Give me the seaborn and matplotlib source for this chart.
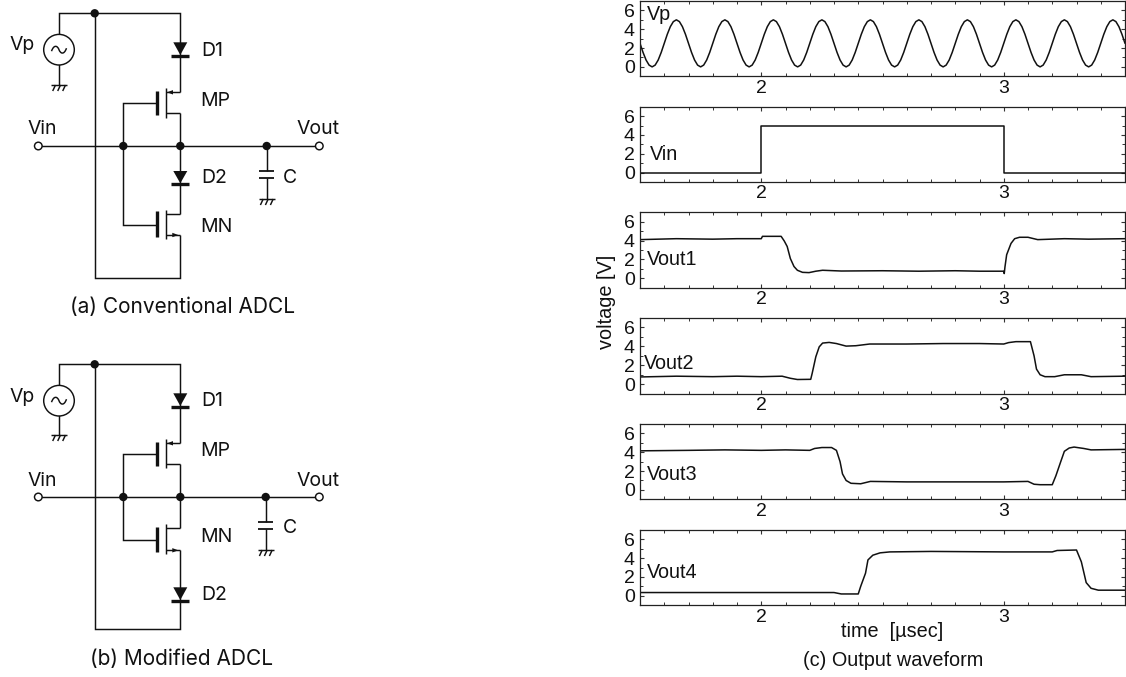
import matplotlib
matplotlib.use("Agg")
import matplotlib.pyplot as plt
import seaborn as sns
from matplotlib.path import Path
from matplotlib.patches import PathPatch, Polygon, Circle
from matplotlib.ticker import MultipleLocator

sns.set_theme(style="ticks")
plt.rcParams['font.family'] = ['Liberation Sans', 'DejaVu Sans']
INK = "#111111"
W, H = 1126, 677

# ---------- waveform data ----------
vp_t = [1.5 + 0.0125 * i for i in range(161)]
vp_v = [2.5,1.54,0.73,0.19,0,0.19,0.73,1.54,2.5,3.46,4.27,4.81,5,4.81,4.27,3.46,
        2.5,1.54,0.73,0.19,0,0.19,0.73,1.54,2.5,3.46,4.27,4.81,5,4.81,4.27,3.46,
        2.5,1.54,0.73,0.19,0,0.19,0.73,1.54,2.5,3.46,4.27,4.81,5,4.81,4.27,3.46,
        2.5,1.54,0.73,0.19,0,0.19,0.73,1.54,2.5,3.46,4.27,4.81,5,4.81,4.27,3.46,
        2.5,1.54,0.73,0.19,0,0.19,0.73,1.54,2.5,3.46,4.27,4.81,5,4.81,4.27,3.46,
        2.5,1.54,0.73,0.19,0,0.19,0.73,1.54,2.5,3.46,4.27,4.81,5,4.81,4.27,3.46,
        2.5,1.54,0.73,0.19,0,0.19,0.73,1.54,2.5,3.46,4.27,4.81,5,4.81,4.27,3.46,
        2.5,1.54,0.73,0.19,0,0.19,0.73,1.54,2.5,3.46,4.27,4.81,5,4.81,4.27,3.46,
        2.5,1.54,0.73,0.19,0,0.19,0.73,1.54,2.5,3.46,4.27,4.81,5,4.81,4.27,3.46,
        2.5,1.54,0.73,0.19,0,0.19,0.73,1.54,2.5,3.46,4.27,4.81,5,4.81,4.27,3.46,
        2.5]
vin_t = [1.5, 2.0, 2.0, 3.0, 3.0, 3.5]
vin_v = [0, 0, 5, 5, 0, 0]
vout1_t = [1.5,1.65,1.8,1.9,2.0,2.005,2.082,2.095,2.107,2.12,2.135,2.149,2.17,2.197,2.225,2.253,2.33,2.5,2.65,2.8,2.9,3.0,3.002,3.005,3.012,3.03,3.045,3.065,3.1,3.14,3.25,3.35,3.5]
vout1_v = [4.1,4.2,4.15,4.2,4.2,4.45,4.45,3.95,3.37,2.1,1.25,0.85,0.63,0.6,0.75,0.85,0.77,0.8,0.75,0.8,0.75,0.75,0.5,1.2,2.5,3.7,4.2,4.35,4.35,4.1,4.2,4.15,4.2]
vout2_t = [1.5,1.65,1.8,1.9,2.0,2.086,2.12,2.149,2.204,2.21,2.225,2.239,2.253,2.28,2.31,2.35,2.39,2.447,2.6,2.75,2.9,3.0,3.02,3.05,3.11,3.125,3.135,3.15,3.17,3.21,3.25,3.32,3.36,3.5]
vout2_v = [0.77,0.85,0.8,0.85,0.8,0.85,0.63,0.5,0.52,1.15,2.9,3.95,4.35,4.42,4.3,4.03,4.07,4.25,4.25,4.3,4.3,4.25,4.4,4.5,4.5,3.0,1.6,1.0,0.8,0.8,1.0,1.0,0.8,0.85]
vout3_t = [1.5,1.7,1.85,2.0,2.1,2.2,2.22,2.25,2.29,2.31,2.325,2.335,2.35,2.37,2.41,2.45,2.6,2.8,3.0,3.1,3.125,3.15,3.2,3.215,3.235,3.25,3.27,3.29,3.33,3.36,3.5]
vout3_v = [4.15,4.2,4.25,4.2,4.25,4.2,4.4,4.5,4.5,4.2,3.0,1.7,1.0,0.7,0.65,0.9,0.85,0.85,0.85,0.9,0.6,0.55,0.55,1.5,3.0,4.1,4.45,4.55,4.4,4.25,4.3]
vout4_t = [1.5,2.0,2.2,2.3,2.33,2.4,2.41,2.43,2.44,2.46,2.49,2.53,2.7,3.0,3.2,3.22,3.3,3.32,3.34,3.36,3.39,3.5]
vout4_v = [0.35,0.35,0.35,0.35,0.2,0.2,1.0,2.4,3.8,4.3,4.55,4.65,4.7,4.65,4.65,4.8,4.85,3.6,1.4,0.8,0.6,0.6]

panel_names = ["Vp", "Vin", "Vout1", "Vout2", "Vout3", "Vout4"]
panel_t = [vp_t, vin_t, vout1_t, vout2_t, vout3_t, vout4_t]
panel_v = [vp_v, vin_v, vout1_v, vout2_v, vout3_v, vout4_v]
panel_box = [(1, 76.3), (106.7, 182), (212.3, 287.7), (318, 393.7), (424, 499.3), (529.7, 605.3)]
panel_label = [(1.528, 5.0), (1.541, 1.35), (1.528, 1.4), (1.518, 1.6), (1.528, 1.05), (1.528, 1.85)]
x_ticks = [2, 3]
y_ticks = [0, 2, 4, 6]

fig = plt.figure(figsize=(W / 100, H / 100), dpi=100)

# ---------- diagrams, in a pixel-scaled layer ----------
bg = fig.add_axes([0, 0, 1, 1])
bg.set_xlim(0, W)
bg.set_ylim(H, 0)
bg.axis("off")

LW = 1.05

def wire(*pts, lw=LW):
    bg.plot([p[0] for p in pts], [p[1] for p in pts], color=INK, lw=lw,
            solid_capstyle="butt", solid_joinstyle="miter")

def dot(x, y):
    bg.add_patch(Circle((x, y), 4.2, fc=INK, ec="none", zorder=4))

def terminal(x, y):
    bg.add_patch(Circle((x, y), 3.8, fc="white", ec=INK, lw=LW, zorder=4))

def ground(x, y):
    wire((x - 8, y), (x + 8, y))
    for dx in (-3.5, 1.5, 6.5):
        wire((x + dx, y), (x + dx - 2.8, y + 6))

def diode(x, top, apex):
    bg.add_patch(Polygon([(x - 7, top), (x + 7, top), (x, apex)], fc=INK, ec="none", zorder=3))
    wire((x - 9, apex + 0.5), (x + 9, apex + 0.5), lw=2.4)

def mosfet(xg, xc, xr, gate_y, top, bot, plate_top, plate_bot, drain_y, source_y, arrow):
    wire((xc, top), (xc, bot))
    wire((xg, plate_top), (xg, plate_bot), lw=2.4)
    wire((xc, drain_y), (xr, drain_y))
    wire((xc, source_y), (xr, source_y))
    if arrow == "in":
        y = drain_y
        tri = [(xc + 1, y), (xc + 7, y - 2.2), (xc + 7, y + 2.2)]
    else:
        y = source_y
        tri = [(xr - 2, y), (xr - 8, y - 2.2), (xr - 8, y + 2.2)]
    bg.add_patch(Polygon(tri, fc=INK, ec="none", zorder=3))

def source(x, y, r=15.3):
    bg.add_patch(Circle((x, y), r, fc="white", ec=INK, lw=LW, zorder=3))
    verts = [(x - 7.5, y + 1.5), (x - 5, y - 5.5), (x - 1.5, y - 4), (x, y),
             (x + 1.5, y + 4), (x + 5, y + 5.5), (x + 7.5, y - 1.5)]
    codes = [Path.MOVETO] + [Path.CURVE4] * 6
    bg.add_patch(PathPatch(Path(verts, codes), fc="none", ec=INK, lw=LW, zorder=4))

def label(x, y, s):
    bg.text(x, y, s, fontsize=14, family=["Inter", "Liberation Sans"], color=INK,
            ha="left", va="baseline")

def caption(x, y, s):
    bg.text(x, y, s, fontsize=15, family=["Inter", "Liberation Sans"], color=INK,
            ha="center", va="baseline")

XR, XT, XL, XS = 180.3, 94.7, 123.3, 59
XCH, XPL = 166, 157.3

# (a) Conventional ADCL
wire((XS, 85), (XS, 13.3), (XR, 13.3), (XR, 92.3))
wire((XT, 13.3), (XT, 277.7), (XR, 277.7), (XR, 235))
wire((XR, 113.3), (XR, 214))
wire((38.3, 146), (319.3, 146))
wire((157.3, 103.3), (XL, 103.3), (XL, 225), (157.3, 225))
wire((266.7, 146), (266.7, 170.7))
wire((266.7, 178.3), (266.7, 199))
wire((259.3, 170.7), (274, 170.7), lw=1.3)
wire((259.3, 178.3), (274, 178.3), lw=1.3)
source(XS, 49.7)
ground(XS, 85)
ground(266.7, 199)
diode(XR, 42.3, 55)
diode(XR, 171, 183.3)
mosfet(XPL, XCH, XR, 103.3, 88.3, 118.3, 90.7, 115, 92.3, 113.3, "in")
mosfet(XPL, XCH, XR, 225, 210, 239.3, 211, 236.7, 214, 235, "out")
for p in [(XT, 13.3), (XL, 146), (XR, 146), (266.7, 146)]:
    dot(*p)
terminal(38.3, 146)
terminal(319.3, 146)
for x, y, s in [(9.3, 50.5, "Vp"), (201.7, 55.5, "D1"), (200, 105.5, "MP"), (28, 134.5, "Vin"),
                (296.7, 134.5, "Vout"), (201.7, 182.8, "D2"), (283.3, 182.8, "C"), (200, 232.2, "MN")]:
    label(x, y, s)
caption(182, 313.2, "(a) Conventional ADCL")

# (b) Modified ADCL
wire((XS, 435), (XS, 364.3), (XR, 364.3), (XR, 443.3))
wire((XT, 364.3), (XT, 629.3), (XR, 629.3), (XR, 550.3))
wire((XR, 464.3), (XR, 528.3))
wire((38.3, 497), (319.3, 497))
wire((157.3, 454), (XL, 454), (XL, 540), (157.3, 540))
wire((265.7, 497), (265.7, 522))
wire((265.7, 529.3), (265.7, 550))
wire((258.3, 522), (273, 522), lw=1.3)
wire((258.3, 529.3), (273, 529.3), lw=1.3)
source(XS, 400.7)
ground(XS, 435)
ground(265.7, 550)
diode(XR, 393.3, 406)
diode(XR, 587.3, 600)
mosfet(XPL, XCH, XR, 454, 439.3, 468.3, 441.7, 465.7, 443.3, 464.3, "in")
mosfet(XPL, XCH, XR, 540, 524.3, 554.3, 526.7, 551.7, 528.3, 550.3, "out")
for p in [(XT, 364.3), (XL, 497), (XR, 497), (265.7, 497)]:
    dot(*p)
terminal(38.3, 497)
terminal(319.3, 497)
for x, y, s in [(9.3, 401.5, "Vp"), (201.7, 406.5, "D1"), (200, 456.2, "MP"), (28, 485.5, "Vin"),
                (296.7, 485.5, "Vout"), (201.7, 600.5, "D2"), (283.3, 532.8, "C"), (200, 542.2, "MN")]:
    label(x, y, s)
caption(182, 664.5, "(b) Modified ADCL")

# ---------- waveform panels ----------
AX_L, AX_R = 640, 1125
for name, t, v, (top, bot), (lx, ly) in zip(panel_names, panel_t, panel_v, panel_box, panel_label):
    ax = fig.add_axes([AX_L / W, 1 - bot / H, (AX_R - AX_L) / W, (bot - top) / H])
    ax.patch.set_alpha(0)
    sns.lineplot(x=t, y=v, ax=ax, estimator=None, sort=False, color=INK, lw=1.1)
    ax.set_xlim(1.5, 3.5)
    ax.set_ylim(-1, 7)
    ax.set_xticks(x_ticks)
    ax.set_yticks(y_ticks)
    ax.xaxis.set_minor_locator(MultipleLocator(0.1))
    ax.yaxis.set_minor_locator(MultipleLocator(1))
    ax.tick_params(which="major", direction="in", top=True, right=True, length=3.2,
                   width=0.8, labelsize=14, color="#333333", labelcolor=INK)
    ax.tick_params(which="minor", direction="in", top=True, right=True, length=1.9,
                   width=0.7, color="#333333")
    ax.tick_params(axis="x", which="major", pad=2.4)
    ax.tick_params(axis="y", which="major", pad=3.6)
    for s in ax.spines.values():
        s.set_linewidth(0.9)
        s.set_color("#222222")
    ax.set_xlabel("")
    ax.set_ylabel("")
    ax.text(lx, ly, name, fontsize=14.2, color=INK, ha="left", va="baseline")

bg.text(606.7, 302, "voltage [V]", fontsize=14.3, color=INK, rotation=90, ha="center", va="center")
bg.text(891.7, 637.3, "time  [\u00b5sec]", fontsize=14.3, color=INK, ha="center", va="baseline")
bg.text(893.5, 666, "(c) Output waveform", fontsize=14.3, color=INK, ha="center", va="baseline")

fig.savefig("out.png", dpi=100, facecolor="white")
